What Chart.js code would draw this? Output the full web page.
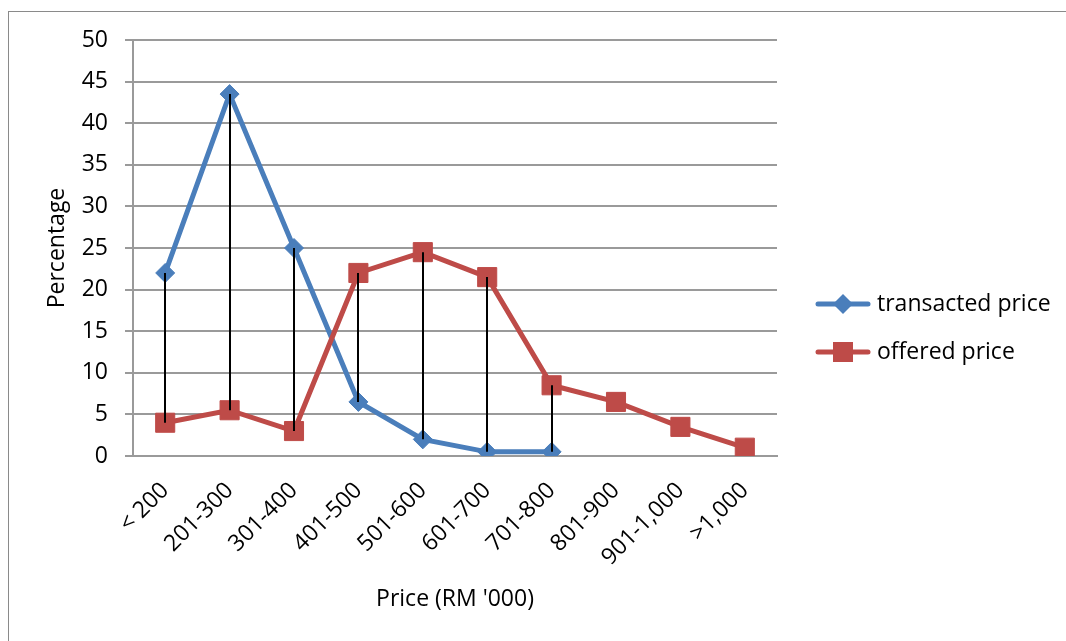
<!DOCTYPE html>
<html>
<head>
<meta charset="utf-8">
<script src="https://cdn.jsdelivr.net/npm/chart.js@4/dist/chart.umd.min.js"></script>
<style>
  html, body { margin: 0; padding: 0; background: #ffffff; }
  #wrap { width: 1066px; height: 641px; }
</style>
</head>
<body>
<div id="wrap"><canvas id="c" width="1066" height="641"></canvas></div>
<script>
// Price bands (RM '000)
const categories = ['< 200', '201-300', '301-400', '401-500', '501-600', '601-700', '701-800', '801-900', '901-1,000', '>1,000'];
// Share of properties in each band (%)
const transacted = [22, 43.5, 25, 6.5, 2, 0.5, 0.5, null, null, null];
const offered = [4, 5.5, 3, 22, 24.5, 21.5, 8.5, 6.5, 3.5, 1];
const seriesNames = ['transacted price', 'offered price'];
const yTicks = [0, 5, 10, 15, 20, 25, 30, 35, 40, 45, 50];

const FONT = '"Open Sans", "DejaVu Sans", sans-serif';
const FONT_SIZE = 23;
const BLUE = '#4A7EBB';
const RED = '#BE4B48';
const GRID = '#9a9a9a';

// White page with a thin outer frame
const frame = {
  id: 'frame',
  beforeDraw(chart) {
    const ctx = chart.ctx;
    ctx.save();
    ctx.fillStyle = '#ffffff';
    ctx.fillRect(0, 0, chart.width, chart.height);
    ctx.strokeStyle = '#8a8a8a';
    ctx.lineWidth = 1;
    ctx.strokeRect(8.5, 11.5, chart.width + 10, chart.height + 10);
    ctx.restore();
  }
};

// Vertical high-low lines joining the two series in each band
const highLow = {
  id: 'highLow',
  afterDatasetsDraw(chart) {
    const x = chart.scales.x, y = chart.scales.y, ctx = chart.ctx;
    ctx.save();
    ctx.strokeStyle = '#000000';
    ctx.lineWidth = 2;
    for (let i = 0; i < categories.length; i++) {
      if (transacted[i] == null || offered[i] == null) continue;
      const px = Math.round(x.getPixelForValue(i));
      ctx.beginPath();
      ctx.moveTo(px, y.getPixelForValue(transacted[i]));
      ctx.lineTo(px, y.getPixelForValue(offered[i]));
      ctx.stroke();
    }
    ctx.restore();
  }
};

// Legend at the right: line sample with marker, then the series name
const sideLegend = {
  id: 'sideLegend',
  afterDraw(chart) {
    const ctx = chart.ctx;
    const rows = [
      { name: seriesNames[0], color: BLUE, marker: 'diamond', y: 304 },
      { name: seriesNames[1], color: RED, marker: 'square', y: 352 }
    ];
    ctx.save();
    rows.forEach(r => {
      ctx.strokeStyle = r.color;
      ctx.lineWidth = 5;
      ctx.lineCap = 'round';
      ctx.beginPath();
      ctx.moveTo(818, r.y);
      ctx.lineTo(868, r.y);
      ctx.stroke();
      ctx.fillStyle = r.color;
      ctx.beginPath();
      if (r.marker === 'diamond') {
        ctx.moveTo(843, r.y - 10);
        ctx.lineTo(853, r.y);
        ctx.lineTo(843, r.y + 10);
        ctx.lineTo(833, r.y);
        ctx.closePath();
      } else {
        ctx.rect(833, r.y - 10, 20, 20);
      }
      ctx.fill();
      ctx.fillStyle = '#000000';
      ctx.font = FONT_SIZE + 'px ' + FONT;
      ctx.textBaseline = 'middle';
      ctx.textAlign = 'left';
      ctx.fillText(r.name, 877, r.y);
    });
    ctx.restore();
  }
};

new Chart(document.getElementById('c'), {
  type: 'line',
  data: {
    labels: categories,
    datasets: [
      {
        label: seriesNames[0],
        data: transacted,
        order: 1,
        borderColor: BLUE,
        backgroundColor: BLUE,
        borderWidth: 5,
        tension: 0,
        pointStyle: 'rectRot',
        pointRadius: 9.5,
        pointBackgroundColor: BLUE,
        pointBorderColor: BLUE,
        pointBorderWidth: 1
      },
      {
        label: seriesNames[1],
        data: offered,
        order: 0,
        borderColor: RED,
        backgroundColor: RED,
        borderWidth: 5,
        tension: 0,
        pointStyle: 'rect',
        pointRadius: 13.5,
        pointBackgroundColor: RED,
        pointBorderColor: RED,
        pointBorderWidth: 1
      }
    ]
  },
  options: {
    responsive: false,
    animation: false,
    events: [],
    layout: { padding: { left: 40, right: 289, top: 40, bottom: 24 } },
    plugins: {
      legend: { display: false },
      tooltip: { enabled: false },
      title: { display: false }
    },
    scales: {
      x: {
        type: 'category',
        offset: true,
        grid: { display: false, drawTicks: false },
        border: { display: true, color: GRID, width: 2 },
        ticks: {
          color: '#000000',
          font: { family: FONT, size: FONT_SIZE },
          minRotation: 45,
          maxRotation: 45,
          padding: 21,
          autoSkip: false
        },
        title: {
          display: true,
          text: "Price (RM '000)",
          color: '#000000',
          font: { family: FONT, size: FONT_SIZE },
          padding: { top: 4, bottom: 4 }
        },
        afterFit(scale) { scale.height = 161; }
      },
      y: {
        min: 0,
        max: 50,
        afterBuildTicks(scale) { scale.ticks = yTicks.map(v => ({ value: v })); },
        grid: { color: GRID, lineWidth: 2, tickLength: 8, drawTicks: true },
        border: { display: true, color: GRID, width: 2 },
        ticks: {
          color: '#000000',
          font: { family: FONT, size: FONT_SIZE },
          padding: 17
        },
        title: {
          display: true,
          text: 'Percentage',
          color: '#000000',
          font: { family: FONT, size: FONT_SIZE },
          padding: { top: 4, bottom: 4 }
        },
        afterFit(scale) { scale.width = 93; }
      }
    }
  },
  plugins: [frame, highLow, sideLegend]
});
</script>
</body>
</html>
